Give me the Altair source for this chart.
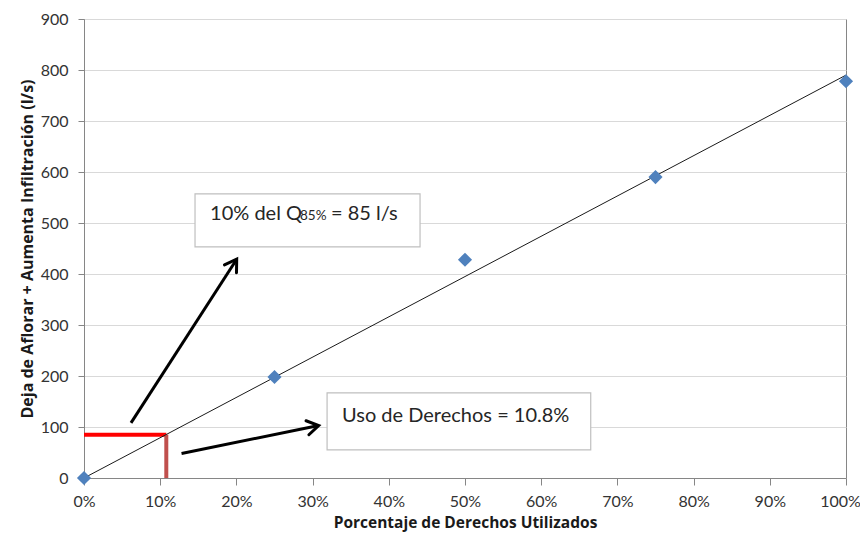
import math
import altair as alt
import pandas as pd

# ---- data ----
pct = [0.0, 0.25, 0.50, 0.75, 1.00]
caudal = [0, 198, 428, 590, 778]

trend_x = [0.0, 1.0]
trend_y = [0, 790]

corte_x = 0.108
corte_y = 85

arrow_x0 = [0.0617, 0.128]
arrow_y0 = [108, 48]
arrow_x1 = [0.2004, 0.308]
arrow_y1 = [429, 103]

box_x0 = [0.1457, 0.319]
box_x1 = [0.441, 0.665]
box_y0 = [557, 167]
box_y1 = [453, 55]

label_text = ["10% del Q", "85%", "= 85 l/s", "Uso de Derechos = 10.8%"]
label_x = [0.1654, 0.2835, 0.3241, 0.3386]
label_y = [505, 505, 505, 110]
label_size = [20, 13.5, 20, 20]

x_ticks = [i / 10 for i in range(11)]
y_ticks = list(range(0, 1000, 100))

W, H = 762, 459
FONT = "Lato"
TFONT = "Open Sans"

x_scale = alt.Scale(domain=[0, 1], nice=False, zero=False)
y_scale = alt.Scale(domain=[0, 900], nice=False)

# arrow head angles (clockwise from up, in screen pixels)
angles = []
for a, b, c, d in zip(arrow_x0, arrow_y0, arrow_x1, arrow_y1):
    dx = (c - a) * W
    dy = (d - b) * H / 900
    angles.append(math.degrees(math.atan2(dx, dy)))

pts = pd.DataFrame({"x": pct, "y": caudal})
trend = pd.DataFrame({"x": trend_x, "y": trend_y})
arrows = pd.DataFrame({"x": arrow_x0, "y": arrow_y0, "x2": arrow_x1, "y2": arrow_y1, "ang": angles})
boxes = pd.DataFrame({"x": box_x0, "x2": box_x1, "y": box_y0, "y2": box_y1})
labels = pd.DataFrame({"x": label_x, "y": label_y, "t": label_text, "s": label_size})
hline = pd.DataFrame({"x": [0.0], "x2": [corte_x], "y": [corte_y]})
vline = pd.DataFrame({"x": [corte_x], "y": [0], "y2": [corte_y]})

X = alt.X(
    "x:Q", scale=x_scale,
    axis=alt.Axis(
        values=x_ticks, format=".0%", title="Porcentaje de Derechos Utilizados",
        grid=False, tickSize=7, labelPadding=8, titlePadding=6,
        labelOffset={"condition": {"test": "datum.value >= 1", "value": -6}, "value": 0},
    ),
)
Y = alt.Y(
    "y:Q", scale=y_scale,
    axis=alt.Axis(
        values=y_ticks, title="Deja de Aflorar + Aumenta Infiltración  (l/s)",
        grid=True, tickSize=6, labelPadding=10, titlePadding=5,
    ),
)

base_axes = alt.Chart(pts).mark_point(opacity=0).encode(x=X, y=Y)

red_h = alt.Chart(hline).mark_rule(color="#ff0000", strokeWidth=4).encode(
    x=alt.X("x:Q", scale=x_scale), x2="x2:Q", y=alt.Y("y:Q", scale=y_scale)
)
red_v = alt.Chart(vline).mark_rule(color="#c0504d", strokeWidth=4).encode(
    x=alt.X("x:Q", scale=x_scale), y=alt.Y("y:Q", scale=y_scale), y2="y2:Q"
)

trend_line = alt.Chart(trend).mark_line(color="#1a1a1a", strokeWidth=1).encode(
    x=alt.X("x:Q", scale=x_scale), y=alt.Y("y:Q", scale=y_scale)
)

points = alt.Chart(pts).mark_point(
    shape="diamond", filled=True, size=200, color="#4f81bd", opacity=1
).encode(x=alt.X("x:Q", scale=x_scale), y=alt.Y("y:Q", scale=y_scale))

shafts = alt.Chart(arrows).mark_rule(color="black", strokeWidth=3).encode(
    x=alt.X("x:Q", scale=x_scale), y=alt.Y("y:Q", scale=y_scale), x2="x2:Q", y2="y2:Q"
)
heads = alt.Chart(arrows).mark_point(
    shape="M-0.53,0.85L0,0L0.53,0.85", filled=False, size=729,
    stroke="black", strokeWidth=3, opacity=1, strokeCap="round", strokeJoin="miter",
).encode(
    x=alt.X("x2:Q", scale=x_scale), y=alt.Y("y2:Q", scale=y_scale), angle=alt.Angle("ang:Q", scale=None)
)

rects = alt.Chart(boxes).mark_rect(fill="white", stroke="#bfbfbf", strokeWidth=1.2).encode(
    x=alt.X("x:Q", scale=x_scale), x2="x2:Q", y=alt.Y("y:Q", scale=y_scale), y2="y2:Q"
)

texts = alt.Chart(labels).mark_text(
    align="left", baseline="alphabetic", font=FONT, color="#262626"
).encode(
    x=alt.X("x:Q", scale=x_scale), y=alt.Y("y:Q", scale=y_scale), text="t:N",
    size=alt.Size("s:Q", scale=None),
)

chart = alt.layer(
    base_axes, red_h, red_v, trend_line, points, shafts, heads, rects, texts
).properties(
    width=W, height=H,
    autosize=alt.AutoSizeParams(type="none"),
    padding={"left": 76, "top": 11, "right": 14, "bottom": 55},
).configure_view(
    stroke="#868686", strokeWidth=1
).configure_axis(
    domainColor="#868686", tickColor="#868686", gridColor="#d9d9d9",
    labelFont=FONT, labelFontSize=16, labelColor="#333333",
    titleFont=TFONT, titleFontWeight="bold", titleColor="#1a1a1a",
).configure_axisX(labelFlush=False, titleFontSize=15.5).configure_axisY(titleFontSize=16)

chart.save("out.html", embed_options={"renderer": "svg", "actions": False})
